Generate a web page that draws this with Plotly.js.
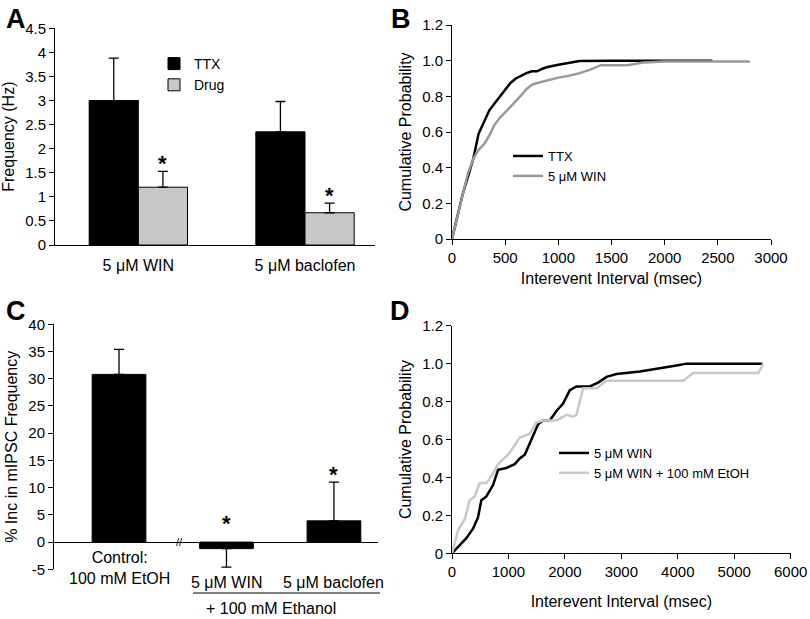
<!DOCTYPE html>
<html>
<head>
<meta charset="utf-8">
<script src="https://cdn.plot.ly/plotly-3.0.1.min.js"></script>
<style>html,body{margin:0;padding:0;background:#fff;}#chart{width:810px;height:619px;}</style>
</head>
<body>
<div id="chart"></div>
<script>
// ---------- Panel A: frequency bars ----------
const catsA = ['5 μM WIN', '5 μM baclofen'];
const ttxA = [3.0, 2.35];
const ttxErrA = [0.88, 0.63];
const drugA = [1.2, 0.67];
const drugErrA = [0.33, 0.2];
const drugSigA = [true, true];

// ---------- Panel B: cumulative probability ----------
const ttxBx = [0, 50, 100, 150, 200, 250, 300, 350, 400, 450, 500, 550, 600, 650, 700, 750, 800, 850, 900, 1000, 1100, 1200, 1500, 2000, 2450];
const ttxBy = [0, 0.12, 0.25, 0.35, 0.45, 0.59, 0.66, 0.72, 0.76, 0.80, 0.84, 0.875, 0.90, 0.915, 0.93, 0.94, 0.94, 0.955, 0.965, 0.977, 0.988, 0.998, 1.0, 1.0, 1.0];
const winBx = [0, 50, 100, 150, 200, 250, 300, 350, 400, 450, 500, 550, 600, 650, 700, 750, 800, 900, 1000, 1100, 1200, 1300, 1400, 1650, 1800, 2000, 2800];
const winBy = [0, 0.12, 0.25, 0.37, 0.45, 0.50, 0.53, 0.58, 0.64, 0.68, 0.71, 0.74, 0.77, 0.805, 0.84, 0.865, 0.875, 0.89, 0.905, 0.915, 0.93, 0.95, 0.975, 0.975, 0.99, 0.995, 0.995];

// ---------- Panel C: % increase bars ----------
const catsC = ['Control:<br>100 mM EtOH', '5 μM WIN', '5 μM baclofen'];
const pctC = [30.8, -1.2, 3.9];
const errUpC = [4.6, 0, 7.1];
const errDownC = [0, 3.4, 0];
const sigC = [false, true, true];
const groupLabelC = '+ 100 mM Ethanol';

// ---------- Panel D: cumulative probability ----------
const winDx = [0, 254, 372, 461, 520, 609, 727, 816, 963, 1111, 1200, 1289, 1407, 1525, 1614, 1732, 1850, 1968, 2087, 2205, 2441, 2589, 2737, 2914, 3328, 3505, 3742, 3978, 4155, 5500];
const winDy = [0, 0.08, 0.13, 0.19, 0.28, 0.30, 0.36, 0.44, 0.45, 0.47, 0.50, 0.52, 0.60, 0.68, 0.70, 0.70, 0.75, 0.79, 0.86, 0.88, 0.88, 0.90, 0.93, 0.945, 0.958, 0.966, 0.98, 0.99, 1.0, 1.0];
const etohDx = [0, 106, 225, 313, 402, 491, 609, 727, 816, 1023, 1200, 1377, 1496, 1614, 1850, 2028, 2146, 2205, 2323, 2560, 2737, 4096, 4273, 5426, 5515];
const etohDy = [0, 0.12, 0.18, 0.28, 0.30, 0.37, 0.37, 0.42, 0.47, 0.53, 0.61, 0.63, 0.69, 0.70, 0.70, 0.73, 0.72, 0.73, 0.87, 0.87, 0.91, 0.91, 0.95, 0.95, 1.0];

// tick labels
const probTickVals = [0, 0.2, 0.4, 0.6, 0.8, 1.0, 1.2];
const probTickText = ['0', '0.2', '0.4', '0.6', '0.8', '1.0', '1.2'];
const pctTickVals = [-5, 0, 5, 10, 15, 20, 25, 30, 35, 40];
const pctTickText = ['-5', '0', '5', '10', '15', '20', '25', '30', '35', '40'];

const FONT = 'Arial, "Liberation Sans", sans-serif';
const zeros = n => new Array(n).fill(0);

const traces = [
  {type: 'bar', name: 'TTX', x: catsA, y: ttxA, xaxis: 'x', yaxis: 'y', legend: 'legend',
   marker: {color: '#000000', line: {color: '#000000', width: 1}},
   error_y: {type: 'data', symmetric: false, array: ttxErrA, arrayminus: zeros(ttxErrA.length), color: '#000', thickness: 1.3, width: 5}},
  {type: 'bar', name: 'Drug', x: catsA, y: drugA, xaxis: 'x', yaxis: 'y', legend: 'legend',
   marker: {color: '#c8c8c8', line: {color: '#000000', width: 1}},
   error_y: {type: 'data', symmetric: false, array: drugErrA, arrayminus: zeros(drugErrA.length), color: '#000', thickness: 1.3, width: 5}},
  {type: 'scatter', mode: 'lines', name: 'TTX', x: ttxBx, y: ttxBy, xaxis: 'x2', yaxis: 'y2', legend: 'legend2',
   line: {color: '#000000', width: 2.5}},
  {type: 'scatter', mode: 'lines', name: '5 μM WIN', x: winBx, y: winBy, xaxis: 'x2', yaxis: 'y2', legend: 'legend2',
   line: {color: '#999999', width: 2.5}},
  {type: 'bar', name: '% Inc', x: catsC, y: pctC, xaxis: 'x3', yaxis: 'y3', showlegend: false, width: 0.5,
   marker: {color: '#000000', line: {color: '#000000', width: 1}},
   error_y: {type: 'data', symmetric: false, array: errUpC, arrayminus: errDownC, color: '#000', thickness: 1.3, width: 5}},
  {type: 'scatter', mode: 'lines', name: '5 μM WIN', x: winDx, y: winDy, xaxis: 'x4', yaxis: 'y4', legend: 'legend3',
   line: {color: '#000000', width: 2.5}},
  {type: 'scatter', mode: 'lines', name: '5 μM WIN + 100 mM EtOH', x: etohDx, y: etohDy, xaxis: 'x4', yaxis: 'y4', legend: 'legend3',
   line: {color: '#c8c8c8', width: 2.5}}
];

const tickFont = {family: FONT, size: 15, color: '#000'};
const titleFont = {family: FONT, size: 16, color: '#000'};
const baseAxis = {showline: true, linecolor: '#000', linewidth: 1, showgrid: false, zeroline: false,
  ticks: 'outside', ticklen: 5, tickwidth: 1, tickcolor: '#000', tickfont: tickFont, fixedrange: true};

const annotations = [];
// panel letters
[['A', 16, 19], ['B', 401, 19], ['C', 16, 311], ['D', 400, 311]].forEach(([t, px, py]) => {
  annotations.push({text: '<b>' + t + '</b>', xref: 'paper', yref: 'paper', x: px / 810, y: 1 - py / 619,
    xanchor: 'center', yanchor: 'middle', showarrow: false, font: {family: FONT, size: 27, color: '#000'}});
});
// asterisks panel A (Drug bars, right half of each group)
drugSigA.forEach((s, i) => {
  if (!s) return;
  annotations.push({text: '<b>*</b>', xref: 'x', yref: 'y', x: i + 0.1475, y: drugA[i] + drugErrA[i],
    yanchor: 'middle', yshift: 8, showarrow: false, font: {family: FONT, size: 22, color: '#000'}});
});
// asterisks panel C
sigC.forEach((s, i) => {
  if (!s) return;
  const top = Math.max(pctC[i] + errUpC[i], 0);
  annotations.push({text: '<b>*</b>', xref: 'x3', yref: 'y3', x: i, y: top,
    yanchor: 'middle', yshift: pctC[i] < 0 ? 19 : 8, showarrow: false, font: {family: FONT, size: 22, color: '#000'}});
});
// category labels panel C
catsC.forEach((c, i) => {
  annotations.push({text: c, xref: 'x3', yref: 'y3', x: i, y: i === 0 ? 0 : -5, yanchor: 'top',
    yshift: i === 0 ? -5 : -3, showarrow: false, font: {family: FONT, size: 16, color: '#000'}});
});
annotations.push({text: groupLabelC, xref: 'paper', yref: 'paper', x: 271 / 810, y: 1 - 608 / 619,
  xanchor: 'center', yanchor: 'middle', showarrow: false, font: {family: FONT, size: 16, color: '#000'}});
annotations.push({text: '//', xref: 'x3', yref: 'y3', x: 0.56, y: 0, xanchor: 'center', yanchor: 'middle',
  showarrow: false, font: {family: FONT, size: 11, color: '#000'}, bgcolor: 'rgba(255,255,255,0)'});

const layout = {
  width: 810, height: 619,
  margin: {l: 0, r: 0, t: 0, b: 0},
  paper_bgcolor: '#ffffff', plot_bgcolor: 'rgba(0,0,0,0)',
  font: {family: FONT, color: '#000'},
  barmode: 'group', bargap: 0.41, bargroupgap: 0,
  hovermode: false,
  xaxis: Object.assign({}, baseAxis, {domain: [55 / 810, 375 / 810], anchor: 'y', type: 'category',
    range: [-0.5, 1.42], ticks: '', tickfont: {family: FONT, size: 16, color: '#000'}, ticklabelstandoff: 6}),
  yaxis: Object.assign({}, baseAxis, {domain: [1 - 245 / 619, 1 - 28.3 / 619], anchor: 'x', range: [0, 4.5], dtick: 0.5,
    title: {text: 'Frequency (Hz)', font: titleFont, standoff: 6}}),
  xaxis2: Object.assign({}, baseAxis, {domain: [452 / 810, 771 / 810], anchor: 'y2', range: [0, 3000], dtick: 500,
    title: {text: 'Interevent Interval (msec)', font: titleFont, standoff: 7}}),
  yaxis2: Object.assign({}, baseAxis, {domain: [1 - 239 / 619, 1 - 25 / 619], anchor: 'x2', range: [0, 1.2],
    tickvals: probTickVals, ticktext: probTickText,
    title: {text: 'Cumulative Probability', font: titleFont, standoff: 6}}),
  xaxis3: Object.assign({}, baseAxis, {domain: [54 / 810, 378 / 810], anchor: 'y3', type: 'category',
    range: [-0.605, 2.41], showline: false, ticks: '', showticklabels: false}),
  yaxis3: Object.assign({}, baseAxis, {domain: [1 - 569.3 / 619, 1 - 324.3 / 619], anchor: 'x3', range: [-5, 40],
    tickvals: pctTickVals, ticktext: pctTickText, zeroline: true, zerolinecolor: '#000', zerolinewidth: 1,
    title: {text: '% Inc in mIPSC Frequency', font: titleFont, standoff: 6}}),
  xaxis4: Object.assign({}, baseAxis, {domain: [452 / 810, 790.7 / 810], anchor: 'y4', range: [0, 6000], dtick: 1000,
    title: {text: 'Interevent Interval (msec)', font: titleFont, standoff: 16}}),
  yaxis4: Object.assign({}, baseAxis, {domain: [1 - 553.3 / 619, 1 - 325.7 / 619], anchor: 'x4', range: [0, 1.2],
    tickvals: probTickVals, ticktext: probTickText,
    title: {text: 'Cumulative Probability', font: titleFont, standoff: 6}}),
  legend: {x: 154 / 810, y: 1 - 48 / 619, xanchor: 'left', yanchor: 'top', bgcolor: 'rgba(0,0,0,0)',
    font: {family: FONT, size: 14, color: '#000'}, itemwidth: 30, traceorder: 'normal'},
  legend2: {x: 508 / 810, y: 1 - 141 / 619, xanchor: 'left', yanchor: 'top', bgcolor: 'rgba(0,0,0,0)',
    font: {family: FONT, size: 13, color: '#000'}, itemwidth: 30, traceorder: 'normal'},
  legend3: {x: 554 / 810, y: 1 - 438 / 619, xanchor: 'left', yanchor: 'top', bgcolor: 'rgba(0,0,0,0)',
    font: {family: FONT, size: 13, color: '#000'}, itemwidth: 30, traceorder: 'normal'},
  annotations: annotations,
  shapes: [
    {type: 'line', xref: 'paper', yref: 'paper', x0: 193 / 810, x1: 380 / 810, y0: 1 - 593 / 619, y1: 1 - 593 / 619,
     line: {color: '#000', width: 1}}
  ]
};

Plotly.newPlot('chart', traces, layout, {staticPlot: true, displayModeBar: false});
</script>
</body>
</html>
